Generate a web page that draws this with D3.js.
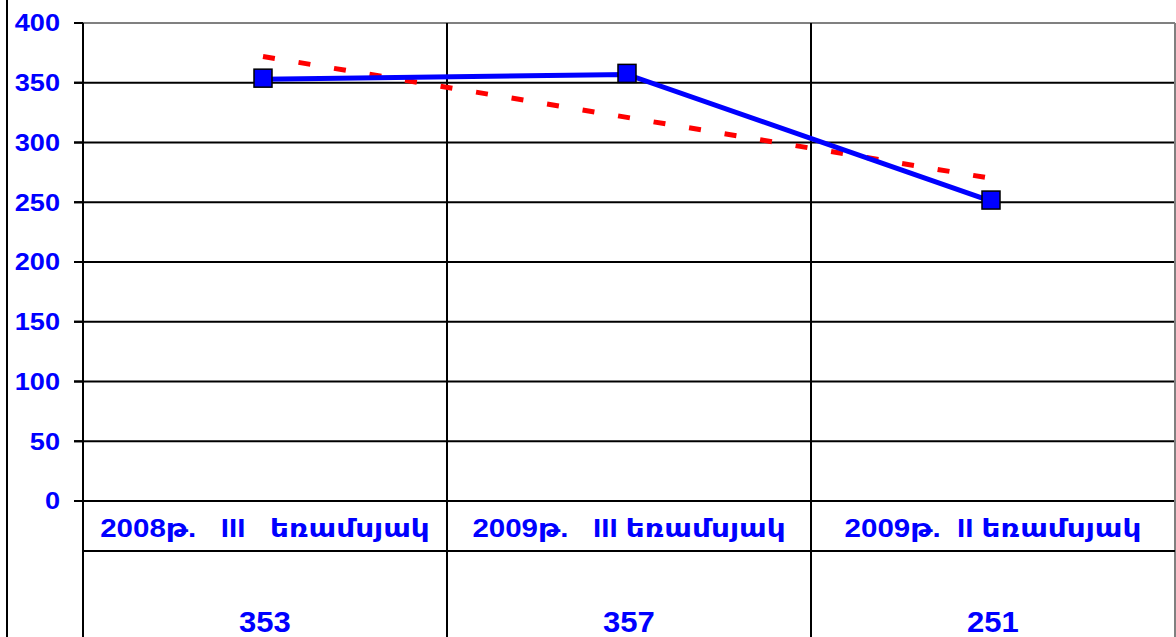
<!DOCTYPE html>
<html>
<head>
<meta charset="utf-8">
<script src="https://cdn.jsdelivr.net/npm/d3@7"></script>
<style>
  body { margin: 0; background: #fff; }
  text { font-family: "Liberation Sans", Arial, "DejaVu Sans", sans-serif; font-weight: bold; fill: #0000ff; white-space: pre; }
</style>
</head>
<body>
<div id="display"></div>
<script>
// chart data
var categories = ["2008թ.   III   եռամսյակ", "2009թ.   III եռամսյակ", "2009թ.  II եռամսյակ"];
var values = [353, 357, 251];
var trend = [372, 321, 270]; // dashed trend line
var yTicks = [0, 50, 100, 150, 200, 250, 300, 350, 400];

var width = 1176, height = 637;
var margin = {left: 83, right: 1, top: 23};
var plotBottom = 501, rowLine = 551;

var svg = d3.select("#display").append("svg")
    .attr("width", width)
    .attr("height", height);

var x = d3.scaleBand()
    .domain(categories)
    .range([margin.left, width - margin.right]);

var y = d3.scaleLinear()
    .domain([0, 400])
    .range([plotBottom, margin.top]);

// outer frame line on the left
svg.append("line")
    .attr("x1", 7).attr("x2", 7)
    .attr("y1", 0).attr("y2", height)
    .attr("stroke", "#000").attr("stroke-width", 2);

// horizontal gridlines + ticks
svg.append("g")
  .selectAll("line")
  .data(yTicks)
  .join("line")
    .attr("x1", margin.left - 9)
    .attr("x2", width - margin.right)
    .attr("y1", d => y(d))
    .attr("y2", d => y(d))
    .attr("stroke", d => d == 400 ? "#808080" : "#000")
    .attr("stroke-width", 2);

// short tick stubs left of axis
svg.append("g")
  .selectAll("line")
  .data(yTicks)
  .join("line")
    .attr("x1", margin.left - 9)
    .attr("x2", margin.left)
    .attr("y1", d => y(d))
    .attr("y2", d => y(d))
    .attr("stroke", "#000")
    .attr("stroke-width", 2);

// y labels
svg.append("g")
  .selectAll("text")
  .data(yTicks)
  .join("text")
    .attr("text-anchor", "end")
    .attr("dy", "0.36em")
    .style("font-size", "23px")
    .attr("transform", d => `translate(60,${y(d)}) scale(1.18,1)`)
    .text(d => d);

// vertical column lines, through the table
var edges = categories.map(c => x(c)).concat([width - margin.right]);
svg.append("g")
  .selectAll("line")
  .data(edges)
  .join("line")
    .attr("x1", d => d).attr("x2", d => d)
    .attr("y1", margin.top).attr("y2", height)
    .attr("stroke", (d, i) => i == edges.length - 1 ? "#808080" : "#000")
    .attr("stroke-width", 2);

// table row separator
svg.append("line")
    .attr("x1", margin.left).attr("x2", width - margin.right)
    .attr("y1", rowLine).attr("y2", rowLine)
    .attr("stroke", "#000").attr("stroke-width", 2);

var cx = d => x(d) + x.bandwidth() / 2 - 2;

// trend line (dashed red)
var trendLine = d3.line()
    .x((d, i) => cx(categories[i]))
    .y(d => y(d));
svg.append("path")
    .datum(trend)
    .attr("d", trendLine)
    .attr("fill", "none")
    .attr("stroke", "#ff0000")
    .attr("stroke-width", 5)
    .attr("stroke-dasharray", "12,24");

// data line
var line = d3.line()
    .x((d, i) => cx(categories[i]))
    .y(d => y(d));
svg.append("path")
    .datum(values)
    .attr("d", line)
    .attr("fill", "none")
    .attr("stroke", "#0000ff")
    .attr("stroke-width", 5);

// markers
svg.append("g")
  .selectAll("rect")
  .data(values)
  .join("rect")
    .attr("x", (d, i) => cx(categories[i]) - 9)
    .attr("y", d => y(d) - 10)
    .attr("width", 18)
    .attr("height", 18)
    .attr("fill", "#0000ff")
    .attr("stroke", "#000")
    .attr("stroke-width", 1.5);

// category row
svg.append("g")
  .selectAll("text")
  .data(categories)
  .join("text")
    .attr("text-anchor", "middle")
    .style("font-size", "25px")
    .attr("transform", d => `translate(${x(d) + x.bandwidth() / 2},537) scale(1.18,1)`)
    .text(d => d);

// value row
svg.append("g")
  .selectAll("text")
  .data(values)
  .join("text")
    .attr("text-anchor", "middle")
    .style("font-size", "29px")
    .attr("transform", (d, i) => `translate(${x(categories[i]) + x.bandwidth() / 2},632) scale(1.07,1)`)
    .text(d => d);
</script>
</body>
</html>
